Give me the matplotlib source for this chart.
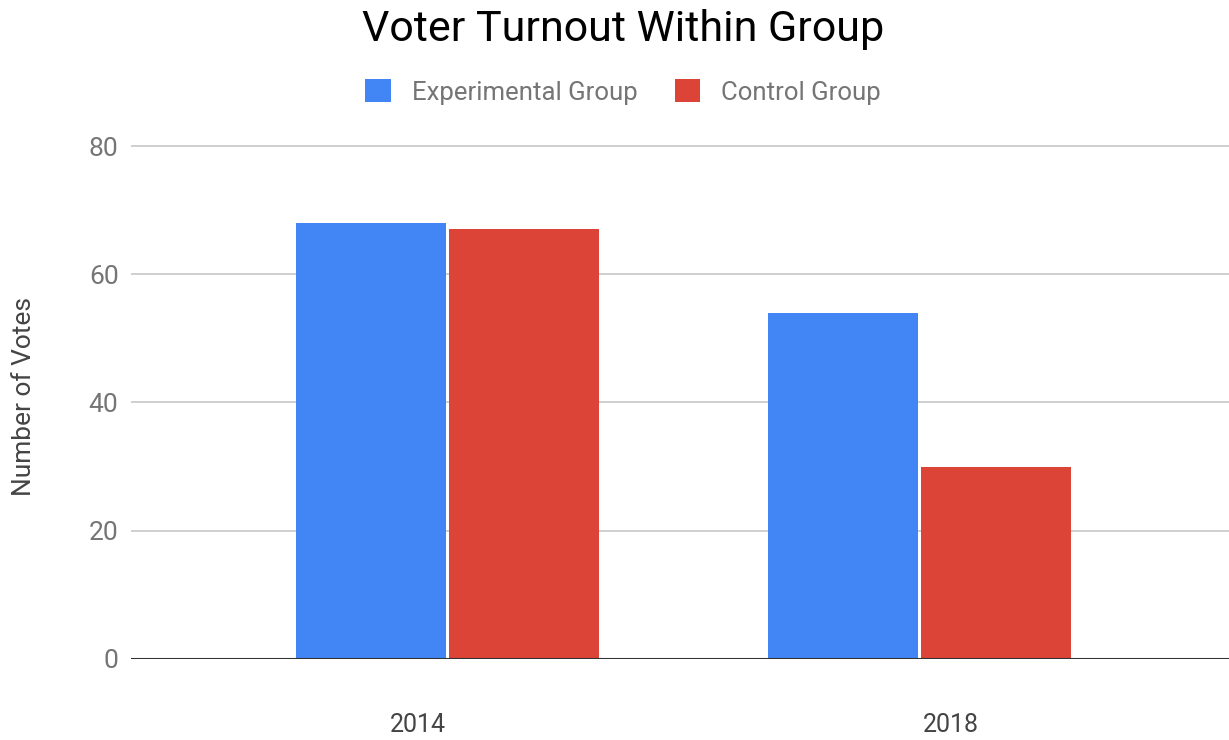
import numpy as np
import matplotlib
matplotlib.use("Agg")
from matplotlib import pyplot as plt

years = ['2014', '2018']
experimental = [68, 54]
control = [67, 30]
series_names = ['Experimental Group', 'Control Group']
series_colors = ['#4285F4', '#DB4437']
y_ticks = [0, 20, 40, 60, 80]

plt.rcParams['font.family'] = ['Roboto', 'DejaVu Sans']

fig = plt.figure(figsize=(12.29, 7.40), dpi=100)
ax = fig.add_axes([0.1066, 0.1095, 0.8934, 0.7105])

x = np.arange(len(years))
width = 0.318
gap = 0.0032
ax.bar(x - width / 2 - gap, experimental, width, color=series_colors[0], label=series_names[0], zorder=3)
ax.bar(x + width / 2 + gap, control, width, color=series_colors[1], label=series_names[1], zorder=3)

ax.set_xlim(-0.6706, 1.6557)
ax.set_ylim(0, 82)

# horizontal grid, darker baseline at zero
for t in y_ticks[1:]:
    ax.axhline(t, color='#cccccc', lw=1.3, zorder=1)
ax.axhline(0, color='#333333', lw=2.2, zorder=4)

ax.set_yticks(y_ticks)
ax.set_yticklabels([str(t) for t in y_ticks], fontsize=19, color='#757575')
ax.tick_params(axis='y', length=0, pad=9)

# year labels sit a bit off the group centres
ax.set_xticks([-0.0625, 1.0667])
ax.set_xticklabels(years, fontsize=18, color='#444444')
ax.tick_params(axis='x', length=0, pad=39)

for s in ax.spines.values():
    s.set_visible(False)

ax.set_ylabel('Number of Votes', fontsize=19, color='#444444', labelpad=38)

fig.suptitle('Voter Turnout Within Group', fontsize=31, color='#000000', x=0.507, y=0.988)
fig.legend(loc='center', bbox_to_anchor=(0.507, 1 - 92 / 740), ncol=2, frameon=False,
           fontsize=18.5, labelcolor='#757575', handlelength=1.0, handleheight=1.0,
           handletextpad=0.8, columnspacing=1.45)

fig.savefig('out.png', dpi=100)
